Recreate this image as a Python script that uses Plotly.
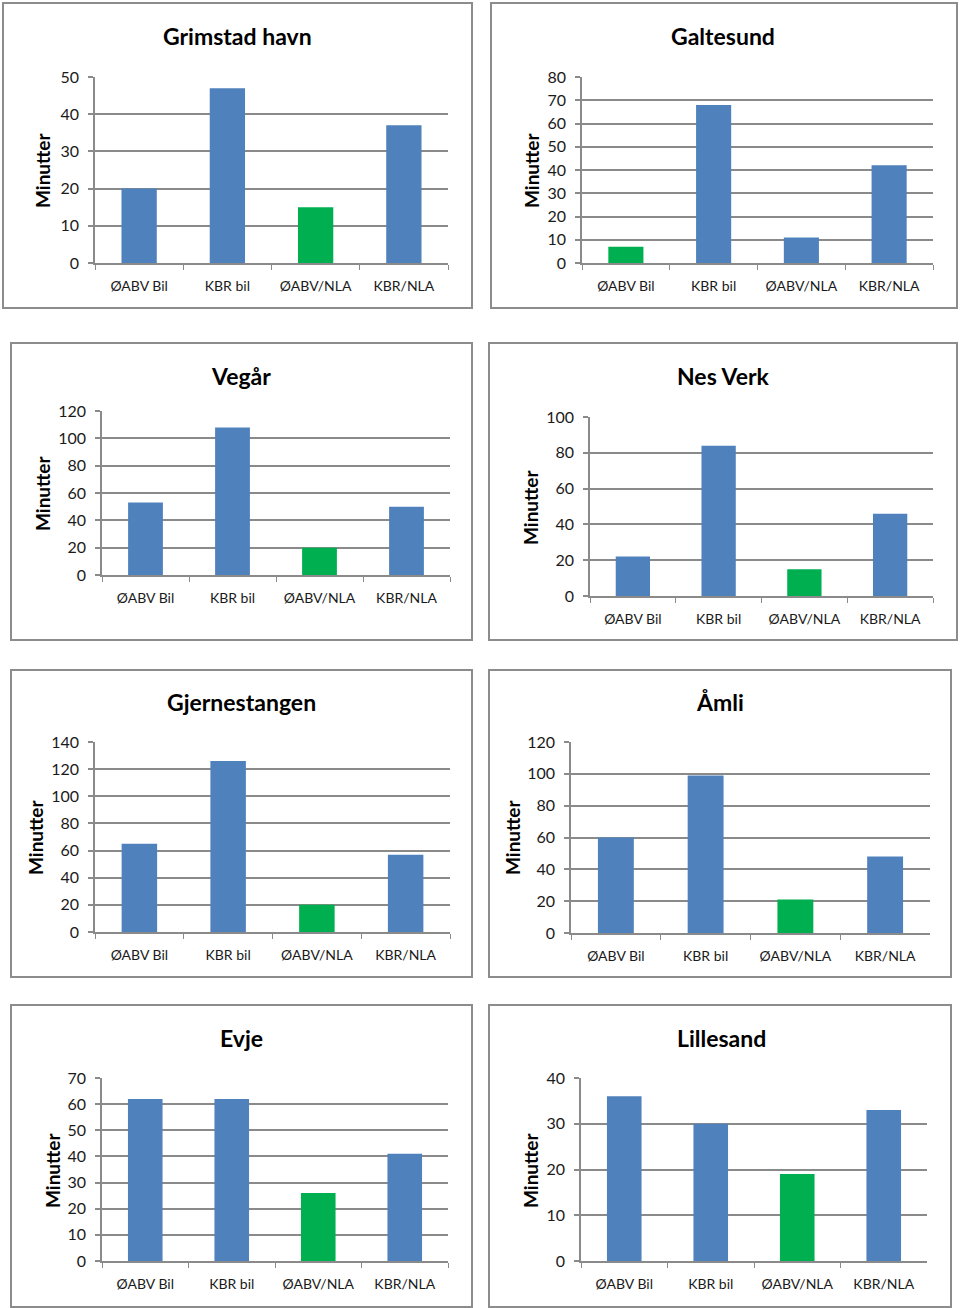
import plotly.graph_objects as go

# ---- data ----
categories = ["ØABV Bil", "KBR bil", "ØABV/NLA", "KBR/NLA"]
stations = ["Grimstad havn", "Galtesund", "Vegår", "Nes Verk",
            "Gjernestangen", "Åmli", "Evje", "Lillesand"]
grimstad_havn = [20, 47, 15, 37]
galtesund = [7, 68, 11, 42]
vegaar = [53, 108, 20, 50]
nes_verk = [22, 84, 15, 46]
gjernestangen = [65, 126, 20, 57]
aamli = [60, 99, 21, 48]
evje = [62, 62, 26, 41]
lillesand = [36, 30, 19, 33]
values = [grimstad_havn, galtesund, vegaar, nes_verk,
          gjernestangen, aamli, evje, lillesand]
green_index = [2, 0, 2, 2, 2, 2, 2, 2]
y_max = [50, 80, 120, 100, 140, 120, 70, 40]
y_step = [10, 10, 20, 20, 20, 20, 10, 10]
y_label = "Minutter"

# ---- layout geometry (pixels) ----
W, H = 960, 1308
plot_px = [(95, 448, 77, 263), (582, 933, 77, 263),
           (102, 450, 411, 575), (590, 933, 417, 596),
           (95, 450, 742, 932), (571, 930, 742, 933),
           (102, 448, 1078, 1261), (581, 927, 1078, 1261)]
box_px = [(3, 3, 472, 308), (491, 3, 957, 308),
          (11, 343, 472, 640), (489, 343, 957, 640),
          (11, 670, 472, 977), (489, 670, 951, 977),
          (11, 1005, 472, 1307), (489, 1005, 951, 1307)]
title_px = [(237, 36), (723, 36), (241, 376), (723, 376),
            (241, 702), (720, 702), (241, 1038), (721, 1038)]
ylab_px = [(43, 170), (532, 170), (43, 493), (530, 507),
           (35, 837), (512, 837), (52, 1170), (530, 1170)]

BLUE = "#4F81BD"
GREEN = "#00B050"
GRID = "#8a8a8a"
FONT = "Lato"

def px_x(x):
    return x / W

def px_y(y):
    return 1 - y / H

fig = go.Figure()
shapes = []
annotations = []
layout = {}

for i in range(8):
    n = "" if i == 0 else str(i + 1)
    colors = [GREEN if j == green_index[i] else BLUE for j in range(len(categories))]
    fig.add_trace(go.Bar(
        x=categories, y=values[i], marker=dict(color=colors, line=dict(width=0)),
        width=0.4, xaxis="x" + n, yaxis="y" + n, showlegend=False,
        hoverinfo="x+y"))
    x0, x1, y0, y1 = plot_px[i]
    layout["xaxis" + n] = dict(
        domain=[px_x(x0), px_x(x1)], anchor="y" + n, type="category",
        range=[-0.5, 3.5], showgrid=False, showline=True, linecolor=GRID,
        linewidth=1.6, ticks="outside", tickson="boundaries", ticklen=5,
        tickwidth=1.4, tickcolor=GRID, tickangle=0, automargin=False,
        tickfont=dict(family=FONT, size=14, color="#1a1a1a"),
        ticklabelstandoff=9, fixedrange=True)
    layout["yaxis" + n] = dict(
        domain=[px_y(y1), px_y(y0)], anchor="x" + n,
        range=[0, y_max[i]], dtick=y_step[i], tick0=0,
        showgrid=True, gridcolor=GRID, gridwidth=1.6, zeroline=False,
        showline=True, linecolor=GRID, linewidth=1.6, automargin=False,
        ticks="outside", ticklen=5, tickwidth=1.6, tickcolor=GRID,
        tickfont=dict(family=FONT, size=16, color="#1a1a1a"),
        ticklabelstandoff=6, fixedrange=True)
    bx0, by0, bx1, by1 = box_px[i]
    shapes.append(dict(type="rect", xref="paper", yref="paper",
                       x0=px_x(bx0), x1=px_x(bx1), y0=px_y(by1), y1=px_y(by0),
                       line=dict(color="#8c8c8c", width=2), layer="below"))
    tx, ty = title_px[i]
    annotations.append(dict(text="<b>" + stations[i] + "</b>", xref="paper", yref="paper",
                            x=px_x(tx), y=px_y(ty), xanchor="center", yanchor="middle",
                            showarrow=False, font=dict(family=FONT, size=23, color="#000")))
    lx, ly = ylab_px[i]
    annotations.append(dict(text="<b>" + y_label + "</b>", xref="paper", yref="paper",
                            x=px_x(lx), y=px_y(ly), xanchor="center", yanchor="middle",
                            textangle=-90, showarrow=False,
                            font=dict(family=FONT, size=19, color="#000")))

fig.update_layout(
    width=W, height=H,
    margin=dict(l=0, r=0, t=0, b=0, pad=0, autoexpand=False),
    paper_bgcolor="white", plot_bgcolor="white",
    shapes=shapes, annotations=annotations, **layout)

post = ("var gd=document.getElementById('{plot_id}');"
        "var p=gd.parentNode;"
        "document.body.insertBefore(gd, document.body.firstChild);"
        "if(p && p!==document.body){p.style.display='none';}"
        "document.documentElement.style.margin='0';"
        "document.documentElement.style.padding='0';"
        "document.documentElement.style.overflow='hidden';"
        "document.body.style.margin='0';document.body.style.padding='0';"
        "document.body.style.overflow='hidden';"
        "gd.style.position='absolute';gd.style.top='0px';gd.style.left='0px';"
        "gd.style.margin='0';")
fig.write_html("out.html", post_script=post,
               config={"displayModeBar": False, "responsive": False})
